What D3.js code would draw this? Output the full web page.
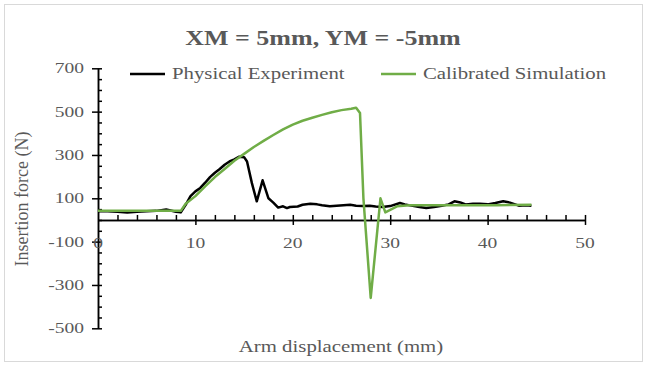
<!DOCTYPE html>
<html lang="en">
<head>
    <meta charset="UTF-8">
    <title>XM = 5mm, YM = -5mm</title>
    <script src="https://d3js.org/d3.v7.min.js"></script>
    <style>
        body { margin: 0; background: #fff; }
        text { font-family: "Liberation Serif", "Times New Roman", serif; fill: #595959; }
    </style>
</head>
<body>
    <svg id="chart" width="647" height="366"></svg>
    <script>
        // Physical experiment (black)
        const physX = [0, 1, 2, 3, 4, 5, 6, 7, 8, 8.5, 9, 9.5, 10, 10.5, 11, 11.5, 12, 12.5, 13, 13.5, 14, 14.5, 15, 15.3, 15.8, 16.3, 16.9, 17.5, 18, 18.5, 19, 19.4, 19.7, 20.5, 21, 21.8, 22.5, 23, 23.8, 24.5, 25.2, 25.9, 26.5, 27.2, 27.9, 28.5, 29.2, 30, 31, 31.5, 32.3, 33, 33.7, 34.5, 35.3, 36, 36.6, 37.2, 37.8, 38.5, 39.2, 40, 40.8, 41.6, 42.3, 43.2, 44, 44.5];
        const physY = [40, 40, 38, 35, 38, 40, 42, 48, 38, 35, 70, 110, 132, 148, 172, 198, 218, 235, 255, 270, 280, 292, 290, 270, 170, 86, 183, 100, 80, 57, 63, 55, 60, 62, 70, 75, 72, 68, 63, 66, 68, 70, 66, 64, 66, 62, 60, 64, 78, 72, 65, 60, 55, 60, 66, 72, 86, 81, 71, 75, 75, 72, 78, 86, 80, 66, 68, 66];

        // Calibrated simulation (green)
        const simX = [0, 8.5, 9, 10, 11, 12, 13, 14, 15, 16, 17, 18, 19, 20, 21, 22, 23, 24, 25, 26, 26.5, 26.9, 27.25, 28, 29, 29.5, 30.7, 32, 35, 38, 41, 44.5];
        const simY = [42, 42, 75, 110, 155, 198, 235, 273, 305, 337, 365, 392, 418, 440, 458, 472, 485, 497, 507, 513, 518, 494, 100, -360, 100, 35, 63, 68, 68, 68, 68, 70];

        const xTicks = [0, 10, 20, 30, 40, 50];
        const yTicks = [700, 500, 300, 100, -100, -300, -500];
        const seriesNames = ['Physical Experiment', 'Calibrated Simulation'];

        const svg = d3.select('#chart');
        const stretch = 1.3; // the picture is widened horizontally

        // outer border
        svg.append('rect')
            .attr('x', 4.5).attr('y', 4.5)
            .attr('width', 638).attr('height', 357)
            .attr('fill', '#fff')
            .attr('stroke', '#d9d9d9');

        const x = d3.scaleLinear().domain([0, 50]).range([98, 585]);
        const y = d3.scaleLinear().domain([-500, 700]).range([328.3, 68.3]);

        // helper for horizontally stretched text
        function label(px, py, str, size, anchor, bold) {
            return svg.append('text')
                .attr('transform', `translate(${px},${py}) scale(${stretch},1)`)
                .attr('text-anchor', anchor)
                .style('font-size', size + 'px')
                .style('font-weight', bold ? 'bold' : 'normal')
                .text(str);
        }

        // title
        label(323, 45, 'XM = 5mm, YM = -5mm', 20, 'middle', true);

        // y axis: outer major ticks
        const yAxis = svg.append('g')
            .attr('transform', `translate(${x(0)},0)`)
            .call(d3.axisLeft(y).tickValues(yTicks).tickSize(6).tickSizeOuter(0).tickFormat(''));
        // inner major + minor ticks
        svg.append('g')
            .attr('transform', `translate(${x(0)},0)`)
            .call(d3.axisRight(y).tickValues(d3.range(-500, 701, 50)).tickSize(4).tickSizeOuter(0).tickFormat(''));

        // x axis at zero
        svg.append('g')
            .attr('transform', `translate(0,${y(0)})`)
            .call(d3.axisBottom(x).tickValues(xTicks.slice(1)).tickSize(5).tickSizeOuter(0).tickFormat(''));
        svg.append('g')
            .attr('transform', `translate(0,${y(0)})`)
            .call(d3.axisTop(x).tickValues(d3.range(2, 51, 2)).tickSize(5).tickSizeOuter(0).tickFormat(''));

        svg.selectAll('.domain, .tick line')
            .attr('stroke', '#000')
            .attr('stroke-width', 1.5);

        // tick labels
        yTicks.forEach(v => label(84, y(v) + 5, v, 15, 'end'));
        xTicks.forEach(v => label(x(v), 248, v, 15, 'middle'));

        // lines
        const line = d3.line().x(d => x(d[0])).y(d => y(d[1]));
        const physData = physX.map((v, i) => [v, physY[i]]);
        const simData = simX.map((v, i) => [v, simY[i]]);

        svg.append('path')
            .datum(physData)
            .attr('fill', 'none')
            .attr('stroke', '#000')
            .attr('stroke-width', 2.5)
            .attr('stroke-linejoin', 'round')
            .attr('d', line);

        svg.append('path')
            .datum(simData)
            .attr('fill', 'none')
            .attr('stroke', '#70ad47')
            .attr('stroke-width', 2.5)
            .attr('stroke-linejoin', 'round')
            .attr('d', line);

        // legend
        const legendColors = ['#000', '#70ad47'];
        const legendX = [130, 381];
        seriesNames.forEach((name, i) => {
            svg.append('line')
                .attr('x1', legendX[i]).attr('x2', legendX[i] + 35)
                .attr('y1', 74).attr('y2', 74)
                .attr('stroke', legendColors[i])
                .attr('stroke-width', 2.5);
            label(legendX[i] + 42, 79, name, 16, 'start');
        });

        // axis titles
        label(341, 352, 'Arm displacement (mm)', 16, 'middle');
        svg.append('text')
            .attr('transform', 'translate(28,199) rotate(-90)')
            .attr('text-anchor', 'middle')
            .style('font-size', '18px')
            .text('Insertion force (N)');
    </script>
</body>
</html>
